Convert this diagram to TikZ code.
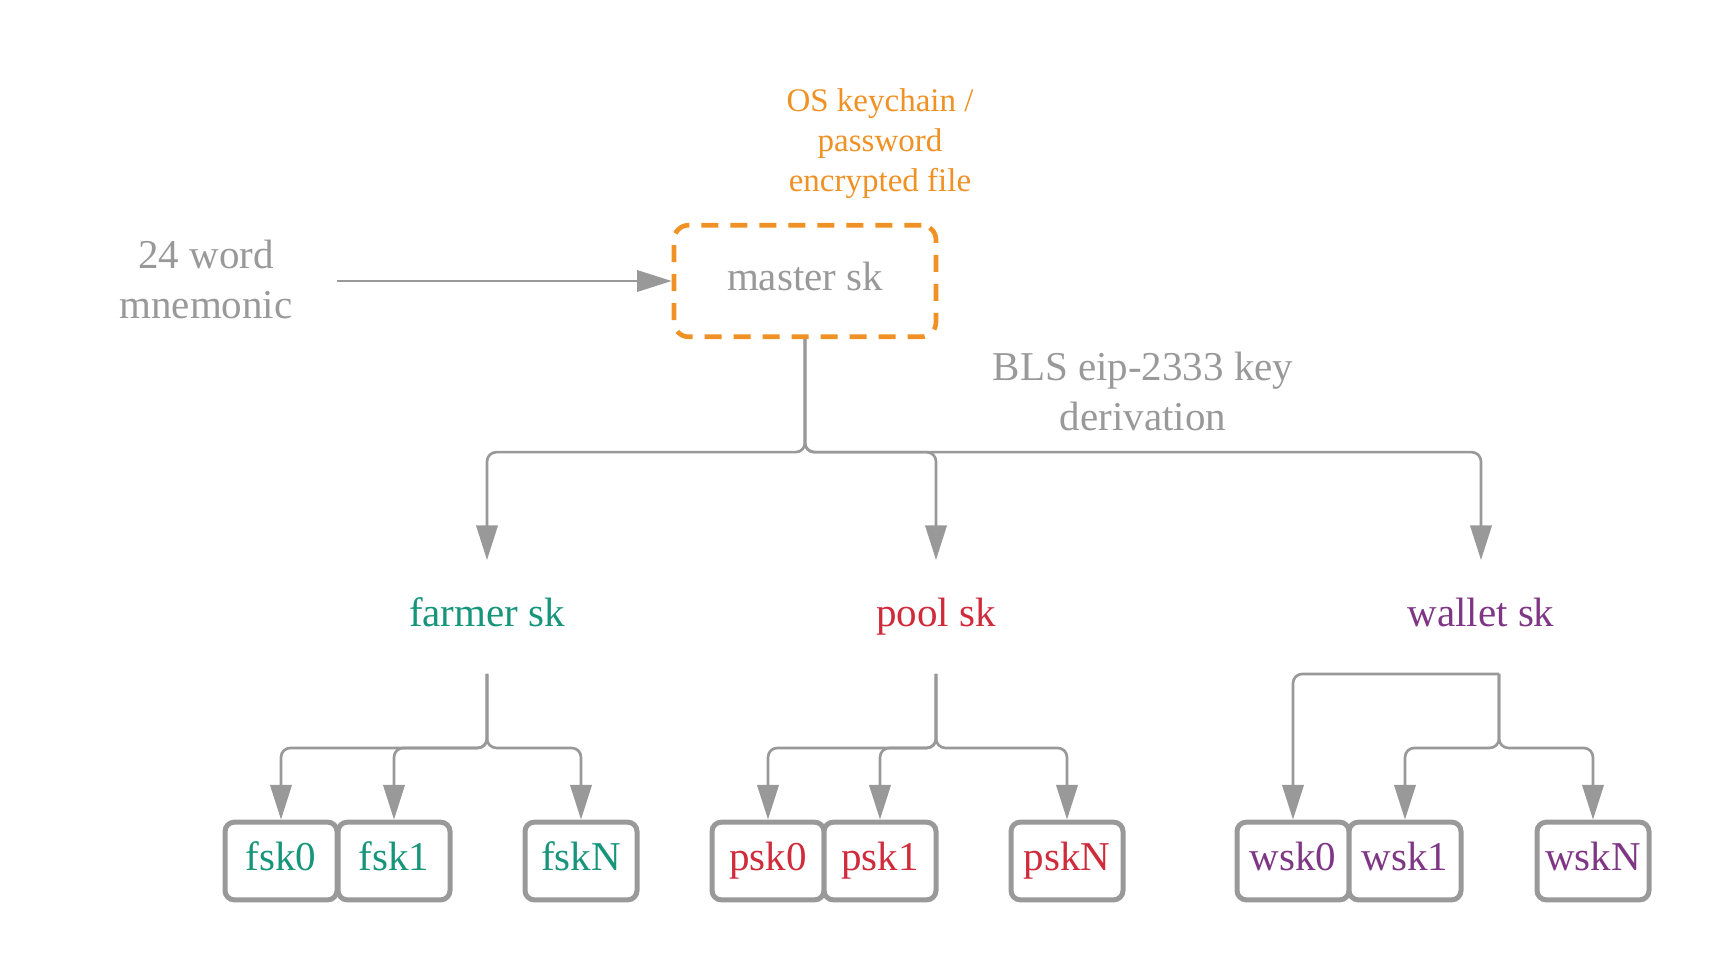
\documentclass[tikz,border=0pt]{standalone}
\usepackage{fontspec}
\setmainfont{Liberation Serif}
\usetikzlibrary{arrows.meta}

\definecolor{keygray}{HTML}{999999}
\definecolor{keyorange}{HTML}{EF9124}
\definecolor{farmgreen}{HTML}{17957A}
\definecolor{poolred}{HTML}{D02B3B}
\definecolor{walletpurple}{HTML}{7F3785}

\tikzset{
  bigtext/.style={font=\fontsize{30.75}{37.5}\selectfont, align=center, inner sep=0pt},
  oneline/.style={bigtext, text height=21pt, text depth=7pt},
  conn/.style={draw=keygray, line width=2pt, rounded corners=7pt,
    -{Triangle[length=26pt,width=16pt]}},
  keybox/.style={oneline, draw=keygray, line width=3.75pt, rounded corners=7pt,
    minimum width=84pt, minimum height=58.3pt, fill=white},
  sklabel/.style={oneline, minimum height=85pt}
}

\begin{document}
\begin{tikzpicture}[x=0.75pt,y=0.75pt,yscale=-1,xscale=1]
\path[use as bounding box] (0,0) rectangle (1725,975);

% Master key
\node [oneline, text=keygray, draw=keyorange, line width=3.5pt, dash pattern=on 12.75pt off 9pt,
  rounded corners=11pt, minimum width=196.5pt, minimum height=83.7pt] (master) at (805,281) {master sk};
% Text Node
\node [font=\fontsize{24.75}{30}\selectfont, align=center, inner sep=0pt, text=keyorange]
  (store) at (880,144) {OS keychain /\\password\\encrypted file};
% Text Node
\node [bigtext, text=keygray] (mnemonic) at (206,279) {24 word\\mnemonic};
% Text Node
\node [bigtext, text=keygray] (bls) at (1143,391) {BLS eip-2333 key\\derivation};

% Child keys
\node [sklabel, text=farmgreen] (farmer) at (487,617) {farmer sk};
\node [sklabel, text=poolred] (pool) at (936,617) {pool sk};
\node [sklabel, text=walletpurple] (wallet) at (1481,617) {wallet sk};

% Leaf keys
\node [keybox, text=farmgreen] (fsk0) at (281,861) {fsk0};
\node [keybox, text=farmgreen] (fsk1) at (394,861) {fsk1};
\node [keybox, text=farmgreen] (fskN) at (581,861) {fskN};
\node [keybox, text=poolred] (psk0) at (768,861) {psk0};
\node [keybox, text=poolred] (psk1) at (880,861) {psk1};
\node [keybox, text=poolred] (pskN) at (1067,861) {pskN};
\node [keybox, text=walletpurple] (wsk0) at (1293,861) {wsk0};
\node [keybox, text=walletpurple] (wsk1) at (1405,861) {wsk1};
\node [keybox, text=walletpurple] (wskN) at (1593,861) {wskN};

% Connectors
\draw [conn, shorten <=33pt] (mnemonic.east |- master.west) -- (master.west);
\draw [conn] (master.south) -- ++(0,113) -| (farmer.north);
\draw [conn] (master.south) -- ++(0,113) -| (pool.north);
\draw [conn] (master.south) -- ++(0,113) -| (wallet.north);

\draw [conn] (farmer.south) -- ++(0,74) -| (fsk0.north);
\draw [conn] (farmer.south) -- ++(0,74) -| (fsk1.north);
\draw [conn] (farmer.south) -- ++(0,74) -| (fskN.north);

\draw [conn] (pool.south) -- ++(0,74) -| (psk0.north);
\draw [conn] (pool.south) -- ++(0,74) -| (psk1.north);
\draw [conn] (pool.south) -- ++(0,74) -| (pskN.north);

\draw [conn] ([xshift=13.5pt]wallet.south) -| (wsk0.north);
\draw [conn] ([xshift=13.5pt]wallet.south) -- ++(0,74) -| (wsk1.north);
\draw [conn] ([xshift=13.5pt]wallet.south) -- ++(0,74) -| (wskN.north);

\end{tikzpicture}
\end{document}
